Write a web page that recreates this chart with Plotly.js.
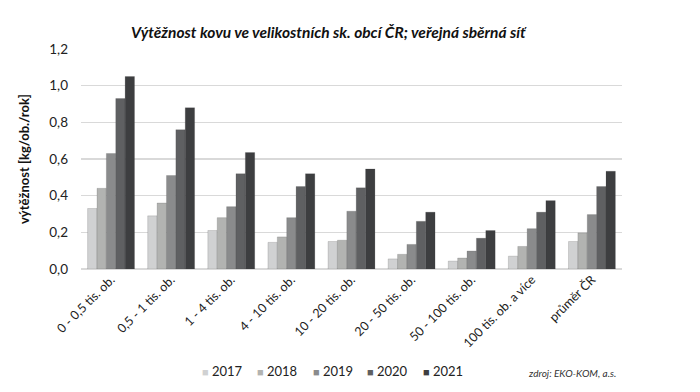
<!DOCTYPE html>
<html><head><meta charset="utf-8">
<script src="https://cdn.plot.ly/plotly-3.0.1.min.js"></script>
<style>body{margin:0;background:#fff}#c{width:700px;height:392px}</style>
</head><body><div id="c"></div>
<script>
const categories = ["0 - 0,5 tis. ob.","0,5 - 1 tis. ob.","1 - 4 tis. ob.","4 - 10 tis. ob.","10 - 20 tis. ob.","20 - 50 tis. ob.","50 - 100 tis. ob.","100 tis. ob. a více","průměr ČR"];
const years = ["2017","2018","2019","2020","2021"];
const v2017 = [0.33,0.29,0.21,0.145,0.15,0.055,0.043,0.07,0.15];
const v2018 = [0.44,0.36,0.28,0.175,0.157,0.08,0.06,0.123,0.197];
const v2019 = [0.63,0.51,0.34,0.28,0.315,0.134,0.098,0.22,0.297];
const v2020 = [0.93,0.76,0.52,0.45,0.443,0.26,0.168,0.31,0.45];
const v2021 = [1.05,0.88,0.635,0.52,0.546,0.31,0.21,0.373,0.533];
const series = [v2017,v2018,v2019,v2020,v2021];
const colors = ["#d0d1d2","#b2b3b1","#8a8b8c","#5f6062","#3d3e40"];
const font = "Lato, 'Open Sans', sans-serif";
const data = series.map((vals,i)=>({
  type:"bar", name:years[i], x:categories, y:vals,
  marker:{color:colors[i], line:{color:"rgba(60,60,60,0.35)", width:0.5}}
}));
// legend built as annotations (compact spacing as in the reference)
const legendAnn = years.map((yr,i)=>({
  text:"<span style='color:"+colors[i]+";font-size:11px'>■</span> "+yr,
  xref:"paper", yref:"paper", x:(222+55.3*i-81)/541, y:(269-371)/220,
  xanchor:"center", yanchor:"middle", showarrow:false,
  font:{size:13, color:"#222", family:font}
}));
const layout = {
  width:700, height:392,
  margin:{l:81, r:78, t:49, b:123, autoexpand:false},
  paper_bgcolor:"#fff", plot_bgcolor:"#fff",
  separators:",.",
  bargap:0.22, bargroupgap:0,
  font:{family:font, size:12, color:"#222"},
  title:{text:"<b><i>Výtěžnost kovu ve velikostních sk. obcí ČR; veřejná sběrná síť</i></b>",
         x:0.469, xanchor:"center", y:0.918, yanchor:"middle",
         font:{family:font, size:15.5, color:"#111"}},
  xaxis:{type:"category", tickangle:-45, tickfont:{size:12.5, color:"#222"},
         showline:false, ticks:"", showgrid:false},
  yaxis:{range:[0,1.2], dtick:0.2, tickformat:".1f", showgrid:true, gridcolor:"#d9d9d9", gridwidth:1.5,
         zeroline:true, zerolinecolor:"#d9d9d9", zerolinewidth:1.5, ticks:"", ticklen:0,
         ticklabelstandoff:12,
         tickfont:{size:13.5, color:"#222"}},
  showlegend:false,
  annotations:legendAnn.concat([
    {text:"<b>výtěžnost [kg/ob./rok]</b>", textangle:-90, xref:"paper", yref:"paper",
     x:(24-81)/541, y:0.5, xanchor:"center", yanchor:"middle", showarrow:false,
     font:{size:13, color:"#111", family:font}},
    {text:"<i>zdroj: EKO-KOM, a.s.</i>", xref:"paper", yref:"paper",
     x:(572-81)/541, y:(269-373)/220, xanchor:"center", yanchor:"middle", showarrow:false,
     font:{size:10, color:"#333", family:font}}])
};
Plotly.newPlot("c", data, layout, {displayModeBar:false, staticPlot:true});
</script></body></html>
